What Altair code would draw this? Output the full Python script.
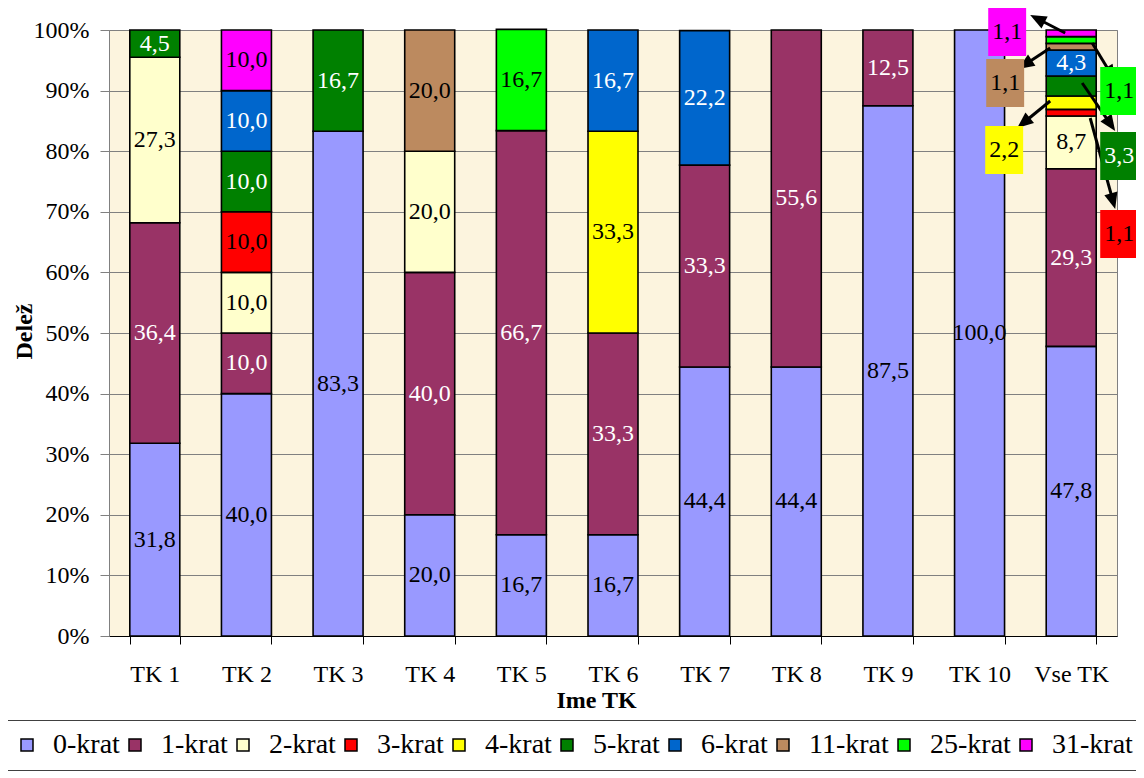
import math
import altair as alt
import pandas as pd

categories = ["TK 1", "TK 2", "TK 3", "TK 4", "TK 5", "TK 6", "TK 7", "TK 8", "TK 9", "TK 10", "Vse TK"]
series = ["0-krat", "1-krat", "2-krat", "3-krat", "4-krat", "5-krat", "6-krat", "11-krat", "25-krat", "31-krat"]
colors = ["#9999FF", "#993366", "#FFFFCC", "#FF0000", "#FFFF00", "#008000", "#0066CC", "#BC8A5F", "#00FF00", "#FF00FF"]
text_colors = ["black", "white", "black", "black", "black", "white", "white", "black", "black", "black"]

v0 = [31.8, 40.0, 83.3, 20.0, 16.7, 16.7, 44.4, 44.4, 87.5, 100.0, 47.8]
v1 = [36.4, 10.0, 0, 40.0, 66.7, 33.3, 33.3, 55.6, 12.5, 0, 29.3]
v2 = [27.3, 10.0, 0, 20.0, 0, 0, 0, 0, 0, 0, 8.7]
v3 = [0, 10.0, 0, 0, 0, 0, 0, 0, 0, 0, 1.1]
v4 = [0, 0, 0, 0, 0, 33.3, 0, 0, 0, 0, 2.2]
v5 = [4.5, 10.0, 16.7, 0, 0, 0, 0, 0, 0, 0, 3.3]
v6 = [0, 10.0, 0, 0, 0, 16.7, 22.2, 0, 0, 0, 4.3]
v11 = [0, 0, 0, 20.0, 0, 0, 0, 0, 0, 0, 1.1]
v25 = [0, 0, 0, 0, 16.7, 0, 0, 0, 0, 0, 1.1]
v31 = [0, 10.0, 0, 0, 0, 0, 0, 0, 0, 0, 1.1]
values = [v0, v1, v2, v3, v4, v5, v6, v11, v25, v31]

# segments labelled outside the last bar, with arrows
callout_series = ["3-krat", "4-krat", "5-krat", "11-krat", "25-krat", "31-krat"]

FONT = "Liberation Serif"
W, H = 1008, 606
NCAT = len(categories)
STEP = W / NCAT          # px per category
PXPCT = H / 100.0        # px per percent


def fmt(v):
    return f"{v:.1f}".replace(".", ",")


rows = []
for ci, cat in enumerate(categories):
    acc = 0.0
    for si, s in enumerate(series):
        v = values[si][ci]
        if v <= 0:
            continue
        rows.append(dict(cat=cat, series=s, y0=acc, y1=acc + v, mid=acc + v / 2,
                         label=fmt(v), tcolor=text_colors[si],
                         inside=not (cat == "Vse TK" and s in callout_series)))
        acc += v
df = pd.DataFrame(rows)

# callout layout (pixel offsets from the centre of the last bar / pixel rows)
layout = {
    # series: (label dx, label y px, arrow start dx, start y px, arrow tip dx, tip y px)
    "31-krat": (-64, 32, -6, 33, -41, 15),
    "11-krat": (-66, 83, -21, 48, -53, 69),
    "25-krat": (48, 91, 21, 43, 44, 81),
    "5-krat": (48, 156, 11, 83, 44, 131),
    "4-krat": (-67, 150, -21, 101, -54, 128),
    "3-krat": (48, 234, 19, 118, 44, 209),
}
TOP = 30
BOTTOM = TOP + H
center_x = NCAT - 0.5
HEAD = 9.0

crow = []
for s, (ldx, ly, sdx, sy, tdx, ty) in layout.items():
    si = series.index(s)
    v = values[si][-1]
    vx, vy = tdx - sdx, ty - sy
    ln = math.hypot(vx, vy)
    ux, uy = vx / ln, vy / ln
    hx, hy = tdx - ux * HEAD, ty - uy * HEAD
    ang = math.degrees(math.atan2(ux, -uy)) % 360
    crow.append(dict(series=s, label=fmt(v), fill=colors[si], tcolor=text_colors[si],
                     lx=center_x + ldx / STEP, ly=(BOTTOM - ly) / PXPCT,
                     ax=center_x + sdx / STEP, ay=(BOTTOM - sy) / PXPCT,
                     bx=center_x + (hx - ux * 2) / STEP, by=(BOTTOM - (hy - uy * 2)) / PXPCT,
                     hx=center_x + hx / STEP, hy=(BOTTOM - hy) / PXPCT, ang=ang))
cdf = pd.DataFrame(crow)

yscale = alt.Scale(domain=[0, 100], nice=False, zero=True)

x_band = alt.X("cat:N", sort=categories,
               scale=alt.Scale(paddingInner=0.4545, paddingOuter=0.227),
               axis=alt.Axis(title="Ime TK", tickBand="extent", labelAngle=0,
                             labelFont=FONT, labelFontSize=24, labelColor="black",
                             labelPadding=18, tickSize=8, tickColor="black",
                             domainColor="black", titleFont=FONT, titleFontSize=24,
                             titleFontWeight="bold", titleColor="black", titlePadding=2,
                             titleX=487, titleAlign="center"))

bars = alt.Chart(df).mark_bar(stroke="black", strokeWidth=1.6).encode(
    x=x_band,
    y=alt.Y("y0:Q", scale=yscale,
            axis=alt.Axis(title="Delež", values=list(range(0, 101, 10)),
                          labelExpr="datum.value + '%'", labelFont=FONT, labelFontSize=24,
                          labelColor="black", labelPadding=11, tickSize=9,
                          tickColor="#808080", domainColor="#808080", grid=True,
                          gridColor="#808080", gridWidth=1, titleFont=FONT,
                          titleFontSize=24, titleFontWeight="bold", titleColor="black",
                          titleX=-85, titleY=301, titleAngle=270, titleAlign="center",
                          titleBaseline="middle")),
    y2="y1:Q",
    color=alt.Color("series:N", sort=series,
                    scale=alt.Scale(domain=series, range=colors),
                    legend=alt.Legend(title=None, orient="none", direction="horizontal",
                                      legendX=-107, legendY=690, padding=11,
                                      strokeColor="#404040", fillColor="white",
                                      gridAlign="each",
                                      symbolType="square", symbolSize=144,
                                      symbolStrokeColor="black", symbolStrokeWidth=1.5,
                                      labelFont=FONT, labelFontSize=28, labelColor="black",
                                      labelOffset=12, columnPadding=1, labelLimit=200)),
)

texts = alt.Chart(df).transform_filter("datum.inside").mark_text(
    font=FONT, fontSize=24, baseline="middle", align="center").encode(
    x=alt.X("cat:N", sort=categories),
    y=alt.Y("mid:Q", scale=yscale),
    text="label:N",
    color=alt.Color("tcolor:N", scale=None),
)

main = alt.layer(bars, texts)

xq = alt.Scale(domain=[0, NCAT], nice=False, zero=False)

arrows = alt.Chart(cdf).mark_rule(strokeWidth=3, color="black").encode(
    x=alt.X("ax:Q", scale=xq, axis=None),
    x2="bx:Q",
    y=alt.Y("ay:Q", scale=yscale),
    y2="by:Q",
)

heads = alt.Chart(cdf).mark_point(shape="M0,-1L0.75,0.8L-0.75,0.8Z", filled=True,
                                  color="black", size=324, opacity=1).encode(
    x=alt.X("hx:Q", scale=xq, axis=None),
    y=alt.Y("hy:Q", scale=yscale),
    angle=alt.Angle("ang:Q", scale=None),
)

boxes = alt.Chart(cdf).mark_point(shape="M-0.79,-1H0.79V1H-0.79Z", filled=True,
                                  size=2304, opacity=1, strokeWidth=0).encode(
    x=alt.X("lx:Q", scale=xq, axis=None),
    y=alt.Y("ly:Q", scale=yscale),
    fill=alt.Fill("fill:N", scale=None),
)

btext = alt.Chart(cdf).mark_text(font=FONT, fontSize=24, baseline="middle",
                                 align="center").encode(
    x=alt.X("lx:Q", scale=xq, axis=None),
    y=alt.Y("ly:Q", scale=yscale),
    text="label:N",
    color=alt.Color("tcolor:N", scale=None),
)

callouts = alt.layer(arrows, heads, boxes, btext)

chart = alt.layer(main, callouts).resolve_scale(
    x="independent"
).properties(
    width=W, height=H,
    autosize=alt.AutoSizeParams(type="none"),
    padding={"left": 101, "top": 22, "right": 19, "bottom": 142},
    background="white",
).configure_view(fill="#FCF4DE", stroke="#808080", strokeWidth=1)

chart.save("out.html", embed_options={"renderer": "svg", "actions": False})
